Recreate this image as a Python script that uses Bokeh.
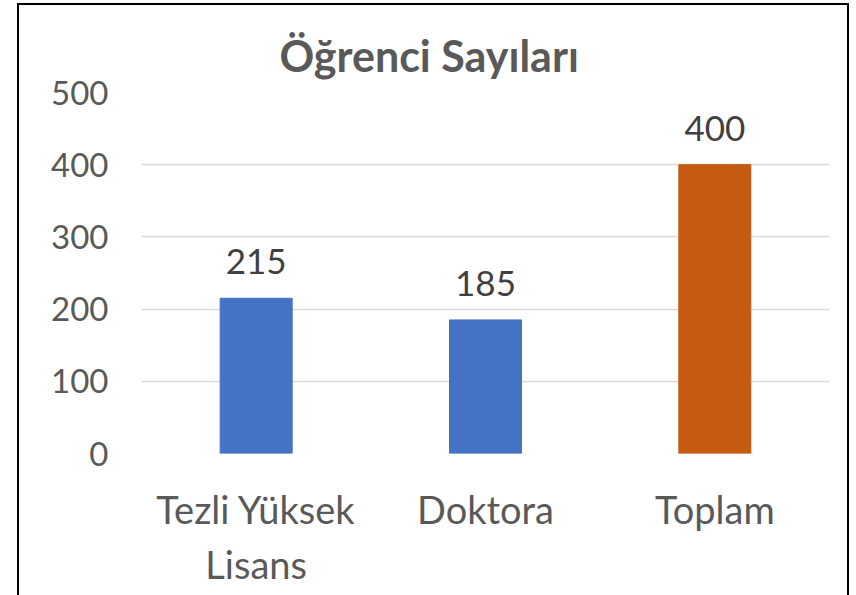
from bokeh.plotting import figure
from bokeh.models import ColumnDataSource, LabelSet
from bokeh.core.properties import value
from bokeh.embed import file_html
from bokeh.resources import INLINE

categories = ["Tezli Yüksek\nLisans", "Doktora", "Toplam"]
values = [215, 185, 400]
colors = ["#4472C4", "#4472C4", "#C55A11"]
label_text = ["215", "185", "400"]

FONT = "Lato"

src = ColumnDataSource(dict(cat=categories, val=values, color=colors, lab=label_text))

p = figure(x_range=categories, y_range=(0, 500), width=832, height=600,
           output_backend="svg", toolbar_location=None,
           title="Öğrenci Sayıları",
           margin=(3, 0, 0, 17),
           styles={"border": "2px solid black"},
           min_border_left=122, min_border_right=22, min_border_top=87, min_border_bottom=152)

p.vbar(x="cat", top="val", width=0.314, color="color", source=src)

labels = LabelSet(x="cat", y="val", text="lab", source=src, text_align="center",
                  text_baseline="bottom", y_offset=24, text_font=value(FONT),
                  text_font_size="35px", text_color="#404040")
p.add_layout(labels)

p.title.align = "left"
p.title.offset = 138
p.title.standoff = 23
p.title.text_font = FONT
p.title.text_font_size = "43px"
p.title.text_font_style = "bold"
p.title.text_color = "#595959"

p.outline_line_color = None
p.background_fill_color = "white"
p.border_fill_color = "white"

p.xgrid.grid_line_color = None
p.ygrid.grid_line_color = "#D9D9D9"
p.ygrid.grid_line_width = 1.5
p.yaxis.ticker = [0, 100, 200, 300, 400, 500]

for ax in (p.xaxis[0], p.yaxis[0]):
    ax.axis_line_color = None
    ax.major_tick_line_color = None
    ax.minor_tick_line_color = None
    ax.major_label_text_font = FONT
    ax.major_label_text_color = "#595959"

p.yaxis.major_label_text_font_size = "33px"
p.yaxis.major_label_standoff = 27
p.xaxis.major_label_text_font_size = "38px"
p.xaxis.major_label_standoff = 26

open("out.html", "w").write(file_html(p, INLINE))
